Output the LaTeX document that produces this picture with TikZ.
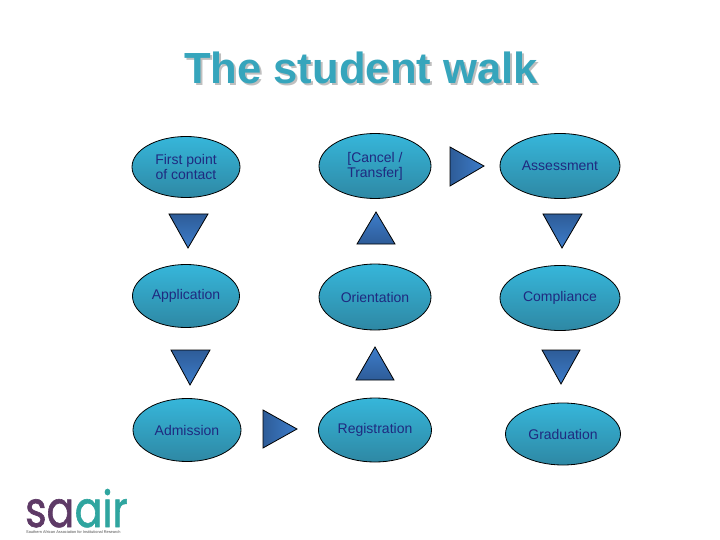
\documentclass[tikz,border=0pt]{standalone}
\usepackage{fontspec}
\setmainfont{Liberation Sans}
\newfontfamily\logofont[FakeStretch=0.82,FakeBold=1.2]{Poppins}
\usetikzlibrary{shapes.geometric}
\definecolor{walkteal}{HTML}{36A5BC}
\definecolor{walkink}{HTML}{1F2A80}
\definecolor{stagetop}{HTML}{36B6DA}
\definecolor{stagemid}{HTML}{30A6C6}
\definecolor{stagelow}{HTML}{2E88A4}
\definecolor{pointerdark}{HTML}{2E5C98}
\definecolor{pointerlight}{HTML}{3D7DCB}
\definecolor{logoplum}{HTML}{5E3A66}
\definecolor{logoteal}{HTML}{2FA59F}
\tikzset{
 stage/.style={ellipse,draw=black,line width=0.8pt,inner sep=0pt,text=walkink,font=\fontsize{14}{15}\selectfont,
   align=center,top color=stagetop,middle color=stagemid,bottom color=stagelow},
 pointer/.style={draw=black,line width=0.8pt,line join=miter},
 pointerdown/.style={pointer,top color=pointerdark,bottom color=pointerlight},
 pointerup/.style={pointer,top color=pointerlight,bottom color=pointerdark},
 pointerright/.style={pointer,left color=pointerdark,right color=pointerlight},
 logoword/.style={font=\logofont\fontsize{50}{50}\selectfont,anchor=base west,inner sep=0pt},
}
\begin{document}
\begin{tikzpicture}[x=1pt,y=-1pt]
 \useasboundingbox (0,0) rectangle (720,540);
 % title
 \node[text=black!25,font=\bfseries\fontsize{43.6}{46}\selectfont] (shadow) at (363,70) {The student walk};
 \node[text=walkteal,font=\bfseries\fontsize{43.6}{46}\selectfont] (title) at (361,68) {The student walk};
 % stages
 \node[stage,minimum width=108pt,minimum height=61pt] (contact) at (186,167) {First point\\of contact};
 \node[stage,minimum width=112pt,minimum height=65pt] (cancel) at (375,166) {[Cancel /\\Transfer]};
 \node[stage,minimum width=120pt,minimum height=65pt] (assess) at (560,166) {Assessment};
 \node[stage,minimum width=107pt,minimum height=63pt] (apply) at (186,296) {Application};
 \node[stage,minimum width=112pt,minimum height=66pt] (orient) at (375,297) {Orientation};
 \node[stage,minimum width=120pt,minimum height=65pt] (comply) at (560,298) {Compliance};
 \node[stage,minimum width=108pt,minimum height=63pt] (admit) at (187,430) {Admission};
 \node[stage,minimum width=113pt,minimum height=64pt] (register) at (375,430) {Registration};
 \node[stage,minimum width=115pt,minimum height=62pt] (graduate) at (563,434) {Graduation};
 % triangles
 \draw[pointerdown](169,214)--(208,214)--(188,248)--cycle;
 \draw[pointerup](376,212)--(395,244)--(357,244)--cycle;
 \draw[pointerright](450,147)--(484,166)--(450,186)--cycle;
 \draw[pointerdown](543,214)--(582,214)--(562,248)--cycle;
 \draw[pointerdown](171,350)--(210,350)--(190,385)--cycle;
 \draw[pointerup](375,347)--(394,380)--(356,380)--cycle;
 \draw[pointerdown](542,350)--(580,350)--(561,384)--cycle;
 \draw[pointerright](263,410)--(297,429)--(263,448)--cycle;
 % logo
 \node[logoword,text=logoplum] (logosa) at (25,527) {sa};
 \node[logoword,text=logoteal] (logoair) at (logosa.base east) {air};
 \node[text=black!70,font=\fontsize{3.9}{4}\selectfont,anchor=base west,inner sep=0pt] (logotext) at (26,533) {Southern African Association for Institutional Research};
\end{tikzpicture}
\end{document}
